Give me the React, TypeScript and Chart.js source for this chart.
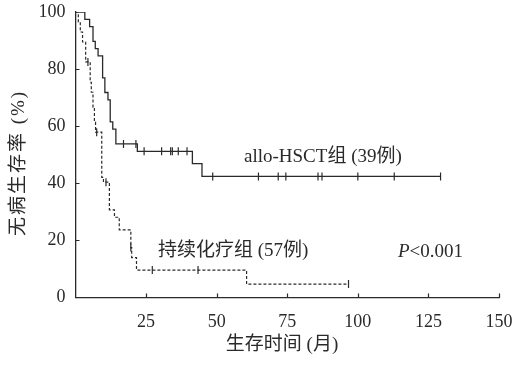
import React, { useEffect, useRef } from "react";
import { Chart, registerables } from "chart.js";
Chart.register(...registerables);

const xTicks = [25, 50, 75, 100, 125, 150];
const yTicks = [0, 20, 40, 60, 80, 100];

const hsctTimes = [0, 3.3, 5.0, 6.2, 7.0, 8.0, 9.6, 10.4, 11.5, 12.3, 13.2, 14.3, 21.9, 41.4, 44.8, 129.3];
const hsctSurv = [100, 97.4, 94.9, 89.7, 87.2, 84.6, 76.9, 71.8, 69.2, 61.5, 59.0, 53.8, 51.2, 46.9, 42.4, 42.4];
const hsctCensorTimes = [17.0, 21.4, 24.3, 30.5, 33.7, 34.3, 36.4, 39.5, 48.6, 64.8, 71.8, 74.5, 85.9, 87.3, 100.0, 112.9, 129.3];
const hsctCensorSurv = [53.8, 53.8, 51.2, 51.2, 51.2, 51.2, 51.2, 51.2, 42.4, 42.4, 42.4, 42.4, 42.4, 42.4, 42.4, 42.4, 42.4];

const chemoTimes = [0, 1.0, 1.7, 2.5, 3.6, 5.2, 5.6, 6.2, 6.7, 7.1, 9.3, 9.9, 12.0, 13.8, 15.5, 19.6, 19.9, 21.6, 60.6, 96.7];
const chemoSurv = [100, 96.5, 93.0, 89.5, 82.5, 75.4, 71.9, 66.7, 61.4, 57.9, 42.1, 40.4, 30.7, 28.1, 23.7, 17.5, 14.0, 9.6, 4.7, 4.7];
const chemoCensorTimes = [4.4, 7.5, 10.8, 19.6, 27.2, 43.4, 96.7];
const chemoCensorSurv = [82.5, 57.9, 40.4, 17.5, 9.6, 9.6, 4.7];

const hsctLabel = "allo-HSCT组 (39例)";
const chemoLabel = "持续化疗组 (57例)";
const xTitle = "生存时间 (月)";
const yTitle = "无病生存率 (%)";

const FONT = "'Liberation Serif', 'Noto Sans CJK SC', serif";
const INK = "#2a2a2a";

const pts = (t: number[], s: number[]) => t.map((x, i) => ({ x, y: s[i] }));

const annot = {
  id: "annot",
  afterDraw(chart: any) {
    const { ctx, chartArea, scales } = chart;
    const xs = scales.x, ys = scales.y;
    ctx.save();
    ctx.strokeStyle = INK;
    ctx.lineWidth = 1.2;
    ctx.beginPath();
    for (const v of yTicks) {
      if (v === 0 || v === 100) continue;
      const y = Math.round(ys.getPixelForValue(v)) + 0.5;
      ctx.moveTo(chartArea.left, y);
      ctx.lineTo(chartArea.left + 4, y);
    }
    for (const v of xTicks) {
      const x = Math.round(xs.getPixelForValue(v)) + 0.5;
      ctx.moveTo(x, chartArea.bottom);
      ctx.lineTo(x, chartArea.bottom - 4);
    }
    ctx.stroke();

    ctx.fillStyle = INK;
    ctx.font = `19px ${FONT}`;
    ctx.textBaseline = "alphabetic";
    ctx.textAlign = "left";
    ctx.fillText(hsctLabel, 244, 162);
    ctx.fillText(chemoLabel, 158, 256);
    ctx.font = `italic 19px ${FONT}`;
    ctx.fillText("P", 398, 257);
    const pw = ctx.measureText("P").width;
    ctx.font = `19px ${FONT}`;
    ctx.fillText("<0.001", 398 + pw, 257);

    ctx.textAlign = "center";
    ctx.textBaseline = "middle";
    ctx.font = `19px ${FONT}`;
    ctx.fillText(xTitle, 282, 345);
    ctx.translate(19, 163);
    ctx.rotate(-Math.PI / 2);
    (ctx as any).letterSpacing = "2px";
    ctx.fillText(yTitle, 0, 0);
    ctx.restore();
  },
};

const noPad = (s: any) => {
  s.paddingLeft = 0;
  s.paddingRight = 0;
  s.paddingTop = 0;
  s.paddingBottom = 0;
};

export default function App() {
  const ref = useRef<HTMLCanvasElement | null>(null);
  useEffect(() => {
    if (!ref.current) return;
    const chart = new Chart(ref.current, {
      type: "line",
      data: {
        datasets: [
          {
            label: "hsct",
            data: pts(hsctTimes, hsctSurv),
            borderColor: INK,
            borderWidth: 1.3,
            stepped: "before",
            pointRadius: 0,
            fill: false,
          },
          {
            label: "chemo",
            data: pts(chemoTimes, chemoSurv),
            borderColor: INK,
            borderWidth: 1.2,
            borderDash: [3, 2],
            stepped: "before",
            pointRadius: 0,
            fill: false,
          },
          {
            label: "hsctCensor",
            data: pts(hsctCensorTimes, hsctCensorSurv),
            showLine: false,
            pointStyle: "line",
            rotation: 90,
            pointRadius: 4,
            borderColor: INK,
            pointBorderWidth: 1.2,
          },
          {
            label: "chemoCensor",
            data: pts(chemoCensorTimes, chemoCensorSurv),
            showLine: false,
            pointStyle: "line",
            rotation: 90,
            pointRadius: 4,
            borderColor: INK,
            pointBorderWidth: 1.2,
          },
        ],
      },
      options: {
        animation: false,
        responsive: true,
        maintainAspectRatio: false,
        layout: { padding: { top: 12, right: 14, left: 0, bottom: 0 } },
        plugins: { legend: { display: false }, tooltip: { enabled: false } },
        scales: {
          x: {
            type: "linear",
            min: 0,
            max: 150,
            afterBuildTicks: (s: any) => {
              s.ticks = xTicks.map((v) => ({ value: v }));
            },
            afterFit: (s: any) => {
              s.height = 68.5;
              noPad(s);
            },
            grid: { display: false, drawTicks: false },
            border: { display: true, color: INK, width: 1.3 },
            ticks: {
              color: INK,
              font: { family: FONT, size: 18 },
              padding: 14,
              maxRotation: 0,
              autoSkip: false,
            },
          },
          y: {
            type: "linear",
            min: 0,
            max: 100,
            afterBuildTicks: (s: any) => {
              s.ticks = yTicks.map((v) => ({ value: v }));
            },
            afterFit: (s: any) => {
              s.width = 75.5;
              noPad(s);
            },
            grid: { display: false, drawTicks: false },
            border: { display: true, color: INK, width: 1.3 },
            ticks: {
              color: INK,
              font: { family: FONT, size: 18 },
              padding: 10,
              autoSkip: false,
            },
          },
        },
      },
      plugins: [annot],
    });
    return () => chart.destroy();
  }, []);
  return (
    <div style={{ position: "fixed", left: 0, top: 0, width: 513, height: 366 }}>
      <canvas ref={ref} />
    </div>
  );
}
